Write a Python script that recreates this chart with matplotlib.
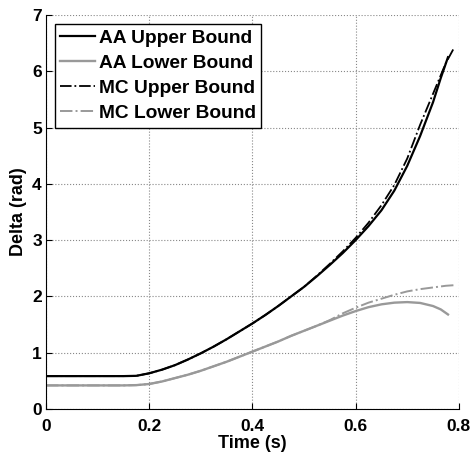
import matplotlib.pyplot as plt

# values
t_aa = [0.0, 0.05, 0.1, 0.15, 0.175, 0.2, 0.225, 0.25, 0.275, 0.3, 0.325, 0.35,
        0.375, 0.4, 0.425, 0.45, 0.475, 0.5, 0.525, 0.55, 0.575, 0.6, 0.625,
        0.65, 0.675, 0.7, 0.725, 0.75, 0.765, 0.779]
aa_upper = [0.585, 0.585, 0.585, 0.585, 0.59, 0.635, 0.7, 0.78, 0.88, 0.99, 1.11, 1.24,
            1.38, 1.52, 1.67, 1.83, 2.0, 2.17, 2.36, 2.56, 2.77, 3.0, 3.25,
            3.53, 3.88, 4.32, 4.85, 5.45, 5.88, 6.25]
aa_lower = [0.42, 0.42, 0.42, 0.42, 0.425, 0.445, 0.49, 0.55, 0.61, 0.68, 0.76, 0.84,
            0.93, 1.02, 1.11, 1.2, 1.3, 1.39, 1.48, 1.57, 1.66, 1.74, 1.81,
            1.86, 1.89, 1.9, 1.885, 1.83, 1.77, 1.68]

t_mc = [0.0, 0.05, 0.1, 0.15, 0.175, 0.2, 0.225, 0.25, 0.275, 0.3, 0.325, 0.35,
        0.375, 0.4, 0.425, 0.45, 0.475, 0.5, 0.525, 0.55, 0.575, 0.6, 0.625,
        0.65, 0.675, 0.7, 0.725, 0.75, 0.775, 0.791]
mc_upper = [0.585, 0.585, 0.585, 0.585, 0.59, 0.635, 0.7, 0.78, 0.88, 0.99, 1.11, 1.24,
            1.38, 1.52, 1.67, 1.83, 2.0, 2.17, 2.37, 2.58, 2.8, 3.04, 3.31,
            3.62, 3.98, 4.45, 5.05, 5.6, 6.15, 6.42]
mc_lower = [0.42, 0.42, 0.42, 0.42, 0.425, 0.445, 0.49, 0.55, 0.61, 0.68, 0.76, 0.84,
            0.93, 1.02, 1.11, 1.2, 1.3, 1.39, 1.48, 1.58, 1.7, 1.8, 1.89,
            1.96, 2.03, 2.09, 2.13, 2.16, 2.19, 2.2]

plt.rcParams['font.family'] = ['Liberation Sans', 'DejaVu Sans']
plt.rcParams['font.weight'] = 'bold'

fig = plt.figure(figsize=(4.74, 4.54), dpi=100)
ax = fig.add_axes([0.097, 0.099, 0.871, 0.868])

gray = '#999999'
ax.plot(t_aa, aa_upper, color='black', lw=1.6, label='AA Upper Bound')
ax.plot(t_aa, aa_lower, color=gray, lw=1.7, label='AA Lower Bound')
ax.plot(t_mc, mc_upper, color='black', lw=1.3, ls='-.', label='MC Upper Bound')
ax.plot(t_mc, mc_lower, color=gray, lw=1.4, ls='-.', label='MC Lower Bound')

ax.set_xlim(0, 0.8)
ax.set_ylim(0, 7)
ax.set_xticks([0, 0.2, 0.4, 0.6, 0.8])
ax.set_xticklabels(['0', '0.2', '0.4', '0.6', '0.8'])
ax.set_yticks(range(8))
ax.tick_params(labelsize=12.5, direction='in', length=4)
ax.tick_params(axis='x', pad=7)
ax.tick_params(axis='y', pad=3)
ax.grid(True, ls=':', color='#888888', lw=0.8)
for s in ['top', 'right']:
    ax.spines[s].set_visible(False)

ax.set_xlabel('Time (s)', fontsize=13, fontweight='bold', labelpad=1)
ax.set_ylabel('Delta (rad)', fontsize=13, fontweight='bold', labelpad=4)

leg = ax.legend(loc='upper left', fontsize=13.8, frameon=True, fancybox=False,
                borderaxespad=0.45, handlelength=1.8, handletextpad=0.2,
                labelspacing=0.4, borderpad=0.3)
leg.get_frame().set_edgecolor('black')
leg.get_frame().set_linewidth(1.0)
leg.get_frame().set_alpha(1)

fig.savefig('out.png', dpi=100)
